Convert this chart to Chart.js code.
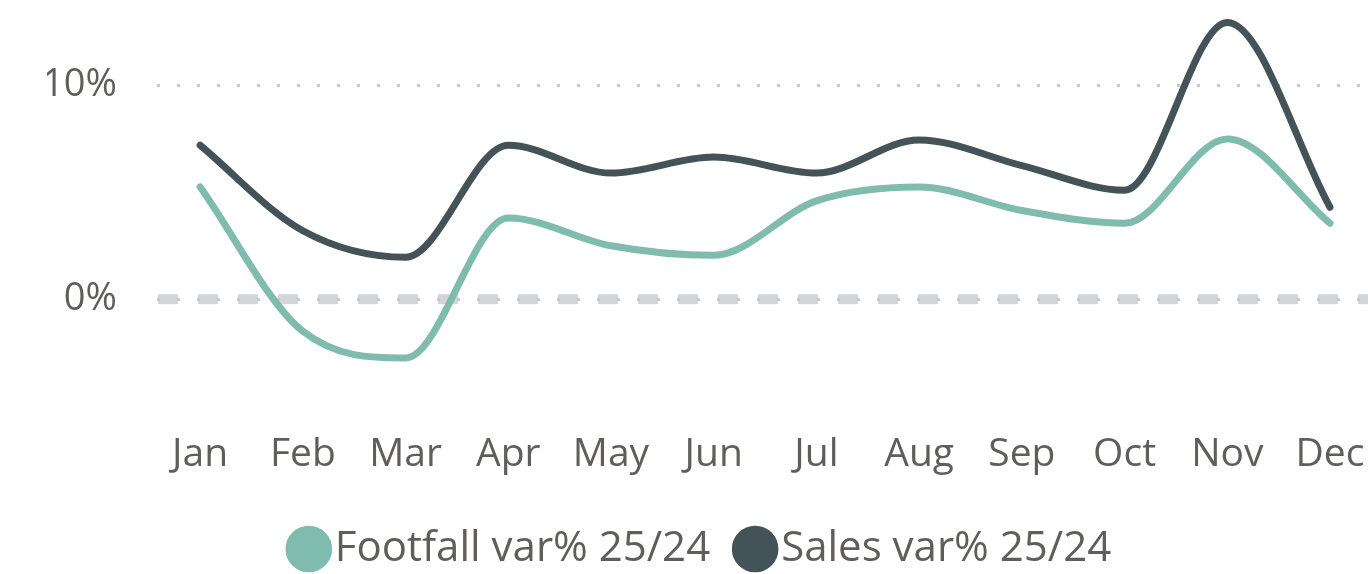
<!DOCTYPE html>
<html>
<head>
<meta charset="utf-8">
<script src="https://cdn.jsdelivr.net/npm/chart.js@4/dist/chart.umd.min.js"></script>
<style>
	html, body { margin: 0; padding: 0; background: #fff; }
	#wrap { width: 1368px; height: 574px; }
</style>
</head>
<body>
<div id="wrap"><canvas id="chart"></canvas></div>
<script>
const months = ['Jan', 'Feb', 'Mar', 'Apr', 'May', 'Jun', 'Jul', 'Aug', 'Sep', 'Oct', 'Nov', 'Dec'];
const footfall = [5.25, -1.5, -2.75, 3.8, 2.5, 2.05, 4.6, 5.25, 4.15, 3.55, 7.5, 3.55];
const sales = [7.2, 3.2, 1.96, 7.2, 5.9, 6.65, 5.9, 7.45, 6.25, 5.1, 12.95, 4.3];
const yTicks = [0, 10];

const textColor = '#605e5c';
const fontFamily = '"Open Sans", "Noto Sans", sans-serif';

// thick dashed baseline at 0%, drawn under the dotted grid
const zeroLine = {
	id: 'zeroLine',
	beforeDraw(chart) {
		const {ctx, chartArea, scales} = chart;
		const y = scales.y.getPixelForValue(0);
		ctx.save();
		ctx.strokeStyle = '#d3d6d8';
		ctx.lineWidth = 10;
		ctx.setLineDash([20, 20]);
		ctx.beginPath();
		ctx.moveTo(chartArea.left + 1, y);
		ctx.lineTo(chartArea.right, y);
		ctx.stroke();
		ctx.restore();
	},
};

const toPoints = (values) => values.map((v, i) => ({x: i, y: v}));

new Chart(document.querySelector('#chart'), {
	type: 'line',
	data: {
		datasets: [
			{
				label: 'Footfall var% 25/24',
				data: toPoints(footfall),
				borderColor: '#80bcad',
				backgroundColor: '#80bcad',
				borderWidth: 7,
				pointRadius: 0,
				cubicInterpolationMode: 'monotone',
				borderCapStyle: 'round',
			},
			{
				label: 'Sales var% 25/24',
				data: toPoints(sales),
				borderColor: '#435357',
				backgroundColor: '#435357',
				borderWidth: 7,
				pointRadius: 0,
				cubicInterpolationMode: 'monotone',
				borderCapStyle: 'round',
			},
		],
	},
	plugins: [zeroLine],
	options: {
		responsive: true,
		maintainAspectRatio: false,
		animation: false,
		layout: {padding: {top: 0, right: 0, bottom: 0, left: 47}},
		plugins: {
			tooltip: {enabled: false},
			legend: {
				position: 'bottom',
				maxHeight: 86,
				labels: {
					usePointStyle: true,
					pointStyle: 'circle',
					boxWidth: 10,
					boxHeight: 28,
					padding: 40,
					color: textColor,
					font: {family: fontFamily, size: 42},
				},
			},
		},
		scales: {
			x: {
				type: 'linear',
				min: -0.42,
				max: 11.37,
				afterBuildTicks: (scale) => {
					scale.ticks = months.map((m, i) => ({value: i}));
				},
				afterFit: (scale) => {
					scale.height = 82;
					scale.paddingLeft = 0;
					scale.paddingRight = 0;
				},
				grid: {display: false, drawTicks: false},
				border: {display: false},
				ticks: {
					autoSkip: false,
					maxRotation: 0,
					padding: 25,
					color: textColor,
					font: {family: fontFamily, size: 39},
					callback: (value) => months[value],
				},
			},
			y: {
				min: -5,
				max: 14,
				afterBuildTicks: (scale) => {
					scale.ticks = yTicks.map((v) => ({value: v}));
				},
				afterFit: (scale) => {
					scale.width = 110;
					scale.paddingTop = 0;
					scale.paddingBottom = 0;
				},
				grid: {
					drawTicks: false,
					color: '#c8c8c8',
					lineWidth: 3,
				},
				border: {display: false, dash: [3, 17]},
				ticks: {
					padding: 40,
					color: textColor,
					font: {family: fontFamily, size: 38},
					callback: (value) => `${value}%`,
				},
			},
		},
	},
});
</script>
</body>
</html>
